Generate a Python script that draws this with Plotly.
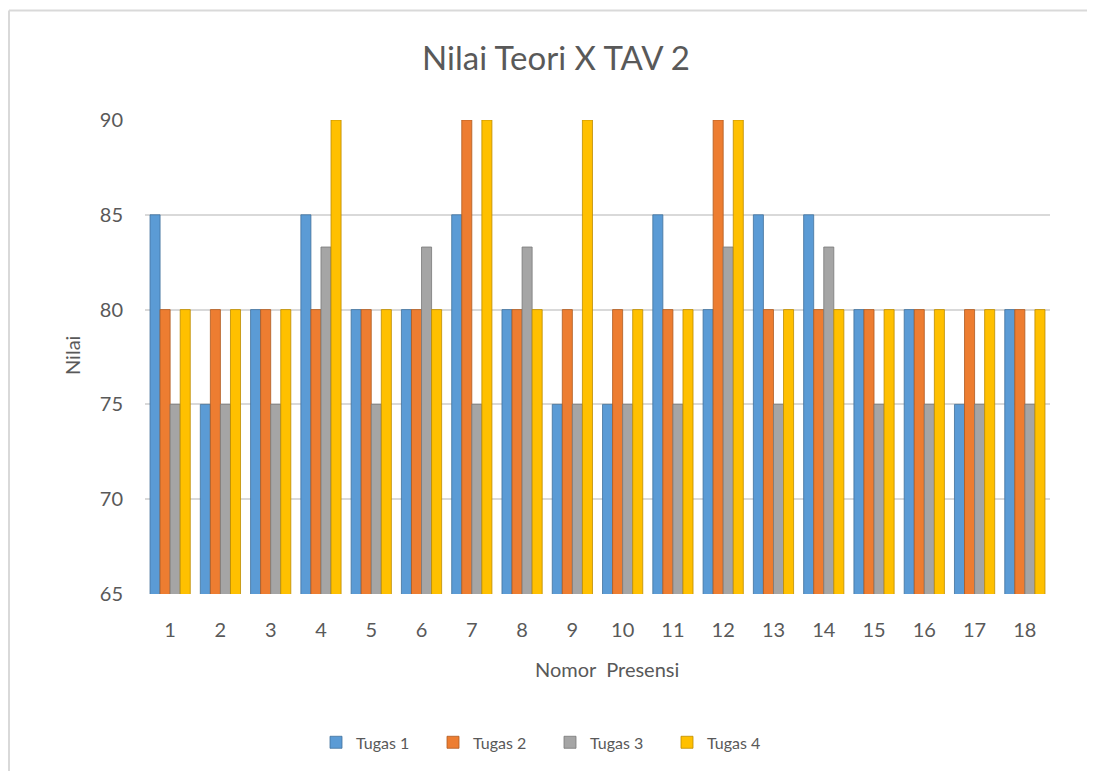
import plotly.graph_objects as go

categories = [str(i) for i in range(1, 19)]
tugas1 = [85, 75, 80, 85, 80, 80, 85, 80, 75, 75, 85, 80, 85, 85, 80, 80, 75, 80]
tugas2 = [80, 80, 80, 80, 80, 80, 90, 80, 80, 80, 80, 90, 80, 80, 80, 80, 80, 80]
tugas3 = [75, 75, 75, 83.3, 75, 83.3, 75, 83.3, 75, 75, 75, 83.3, 75, 83.3, 75, 75, 75, 75]
tugas4 = [80, 80, 80, 90, 80, 80, 90, 80, 90, 80, 80, 90, 80, 80, 80, 80, 80, 80]
series_names = ["Tugas 1", "Tugas 2", "Tugas 3", "Tugas 4"]
colors = ["#5B9BD5", "#ED7D31", "#A5A5A5", "#FFC000"]
edges = ["#41719C", "#AE5A21", "#787878", "#BC8C00"]

W, H = 1079, 763
L, R, T, B = 137, 37, 112, 175
PW, PH = W - L - R, H - T - B


def px(X):
    return (X - 8 - L) / PW


def py(Y):
    return (H - B + 8 - Y) / PH


fig = go.Figure()
for name, vals, c, e in zip(series_names, [tugas1, tugas2, tugas3, tugas4], colors, edges):
    fig.add_trace(go.Bar(
        x=categories, y=vals, name=name,
        marker=dict(color=c, line=dict(color=e, width=0.8)),
    ))

font_family = "Lato, Open Sans, sans-serif"
fig.update_layout(
    width=W, height=H,
    paper_bgcolor="white", plot_bgcolor="white",
    barmode="group", bargap=0.2, bargroupgap=0,
    margin=dict(l=L, r=R, t=T, b=B),
    font=dict(family=font_family, color="#595959", size=20),
    title=dict(text="Nilai Teori X TAV 2", xref="paper", x=px(556), xanchor="center",
               y=1 - (58 - 8) / H, yanchor="middle",
               font=dict(size=33, color="#595959")),
    xaxis=dict(showgrid=False, showline=False, ticks="outside", ticklen=18,
               tickcolor="rgba(0,0,0,0)", tickfont=dict(size=20)),
    yaxis=dict(range=[65, 90], dtick=5, showgrid=True, gridcolor="#D9D9D9", gridwidth=1.5,
               zeroline=False, showline=False, ticks="outside", ticklen=17,
               tickcolor="rgba(0,0,0,0)", tickfont=dict(size=20)),
    legend=dict(orientation="h", x=px(550), xanchor="center", y=py(745), yanchor="middle",
                font=dict(size=16), traceorder="normal",
                entrywidth=72, entrywidthmode="pixels"),
    annotations=[
        dict(text="Nilai", x=px(72), y=py(357), xref="paper", yref="paper",
             showarrow=False, textangle=-90, font=dict(size=20, color="#595959"),
             xanchor="center", yanchor="middle"),
        dict(text="Nomor  Presensi", x=px(607), y=py(671), xref="paper", yref="paper",
             showarrow=False, font=dict(size=20, color="#595959"),
             xanchor="center", yanchor="middle"),
    ],
    shapes=[
        dict(type="line", xref="paper", yref="paper", x0=px(9), x1=px(1095),
             y0=py(10), y1=py(10), line=dict(color="#D9D9D9", width=2)),
        dict(type="line", xref="paper", yref="paper", x0=px(9), x1=px(9),
             y0=py(10), y1=py(779), line=dict(color="#D9D9D9", width=2)),
    ],
)

fig.write_html("out.html")
